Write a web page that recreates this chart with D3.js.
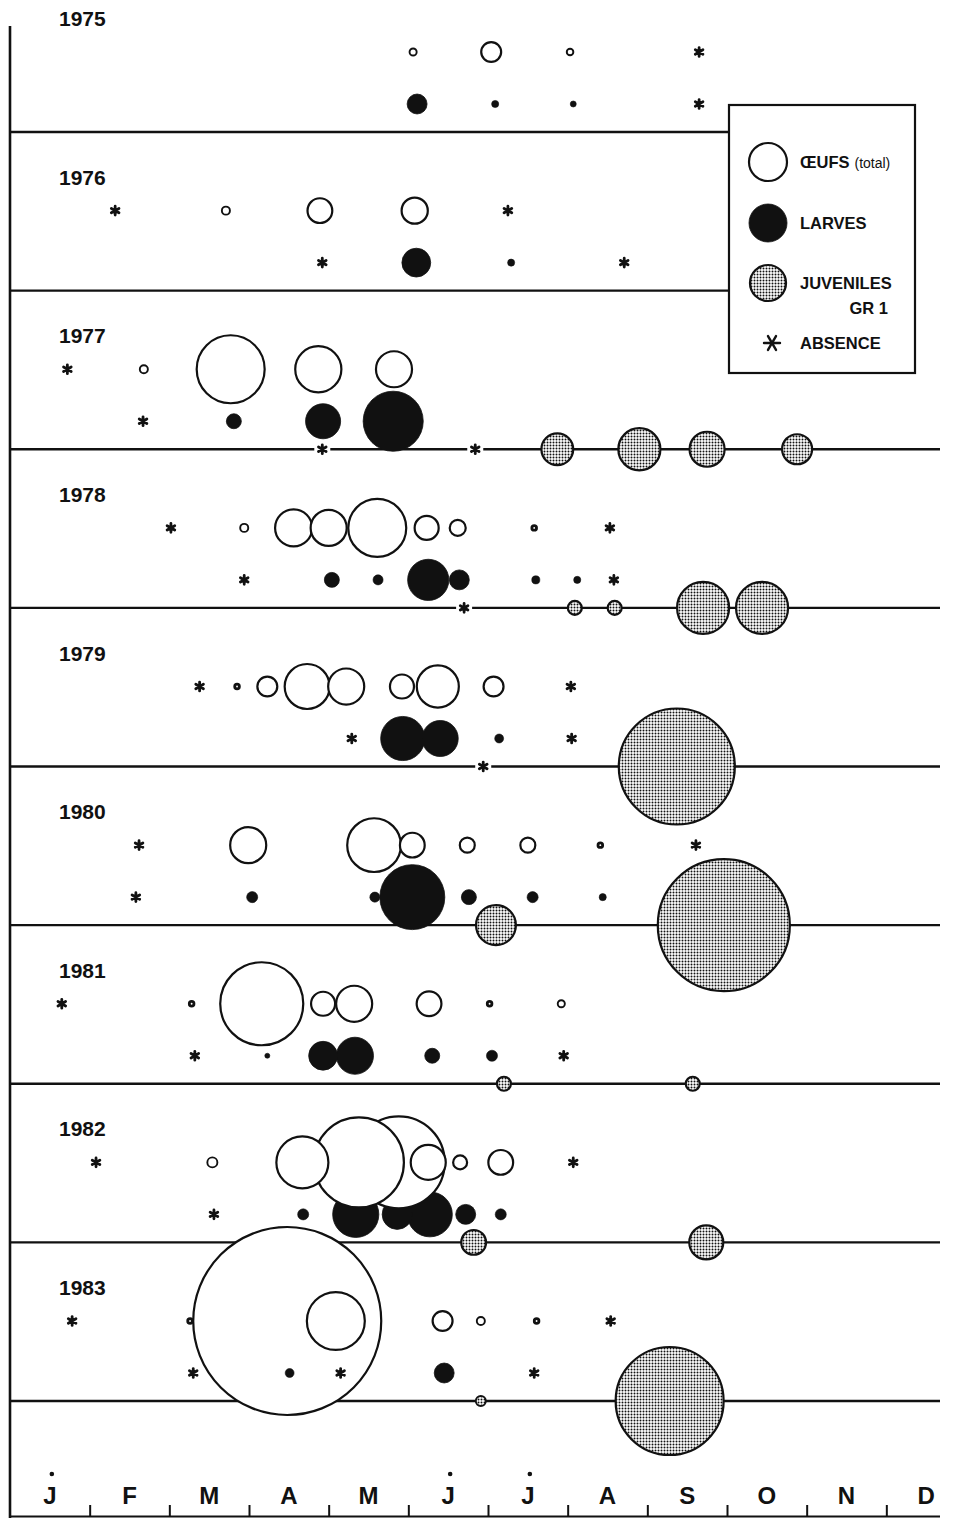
<!DOCTYPE html>
<html>
<head>
<meta charset="utf-8">
<script src="https://cdn.jsdelivr.net/npm/d3@7"></script>
<style>
  body { margin: 0; background: #fff; }
  svg { display: block; }
  text { font-family: "Liberation Sans", Arial, sans-serif; fill: #111; }
</style>
</head>
<body>
<svg id="chart" width="955" height="1518"></svg>
<script>
// Sampling years, one band each
const years = [1975, 1976, 1977, 1978, 1979, 1980, 1981, 1982, 1983];
const monthLabels = ["J", "F", "M", "A", "M", "J", "J", "A", "S", "O", "N", "D"];
const dottedMonths = [0, 5, 6];

// [year, month (0 = 1 Jan, fractional), abundance index]; 0 = absence
const eggs = [
  [1975, 5.06, 1.4], [1975, 6.04, 11], [1975, 7.03, 1.2], [1975, 8.65, 0],
  [1976, 1.32, 0], [1976, 2.71, 1.8], [1976, 3.89, 17], [1976, 5.08, 19], [1976, 6.25, 0],
  [1977, 0.72, 0], [1977, 1.68, 1.8], [1977, 2.77, 128], [1977, 3.87, 59], [1977, 4.82, 36],
  [1978, 2.02, 0], [1978, 2.94, 1.8], [1978, 3.56, 38], [1978, 4.00, 36], [1978, 4.61, 93],
  [1978, 5.23, 16], [1978, 5.62, 7.1], [1978, 6.58, 0.6], [1978, 7.53, 0],
  [1979, 2.38, 0], [1979, 2.85, 0.6], [1979, 3.23, 11], [1979, 3.73, 56], [1979, 4.22, 36],
  [1979, 4.92, 16], [1979, 5.37, 49], [1979, 6.07, 11], [1979, 7.04, 0],
  [1980, 1.62, 0], [1980, 2.99, 36], [1980, 4.57, 80], [1980, 5.05, 17], [1980, 5.74, 6.2],
  [1980, 6.50, 6.2], [1980, 7.41, 0.6], [1980, 8.61, 0],
  [1981, 0.65, 0], [1981, 2.28, 0.6], [1981, 3.16, 191], [1981, 3.93, 16], [1981, 4.32, 36],
  [1981, 5.26, 17], [1981, 6.02, 0.6], [1981, 6.92, 1.4],
  [1982, 1.08, 0], [1982, 2.54, 2.8], [1982, 3.67, 75], [1982, 4.38, 224], [1982, 4.88, 234],
  [1982, 5.25, 34], [1982, 5.65, 5.4], [1982, 6.16, 17], [1982, 7.07, 0],
  [1983, 0.78, 0], [1983, 2.26, 0.6], [1983, 3.48, 979], [1983, 4.09, 93], [1983, 5.43, 11],
  [1983, 5.91, 1.8], [1983, 6.61, 0.6], [1983, 7.54, 0]
];

const larvae = [
  [1975, 5.11, 11], [1975, 6.09, 1.4], [1975, 7.07, 1.0], [1975, 8.65, 0],
  [1976, 3.92, 0], [1976, 5.10, 23], [1976, 6.29, 1.4], [1976, 7.71, 0],
  [1977, 1.67, 0], [1977, 2.81, 6.2], [1977, 3.93, 34], [1977, 4.81, 100],
  [1978, 2.94, 0], [1978, 4.04, 6.2], [1978, 4.62, 2.8], [1978, 5.25, 47], [1978, 5.64, 11],
  [1978, 6.60, 1.8], [1978, 7.12, 1.4], [1978, 7.58, 0],
  [1979, 4.29, 0], [1979, 4.93, 54], [1979, 5.40, 36], [1979, 6.14, 2.2], [1979, 7.05, 0],
  [1980, 1.58, 0], [1980, 3.04, 3.4], [1980, 4.58, 2.8], [1980, 5.05, 117], [1980, 5.76, 6.2],
  [1980, 6.56, 3.4], [1980, 7.44, 1.4],
  [1981, 2.32, 0], [1981, 3.23, 0.7], [1981, 3.93, 23], [1981, 4.33, 38], [1981, 5.30, 6.2],
  [1981, 6.05, 3.4], [1981, 6.95, 0],
  [1982, 2.56, 0], [1982, 3.68, 3.4], [1982, 4.34, 59], [1982, 4.86, 25], [1982, 5.27, 56],
  [1982, 5.72, 11], [1982, 6.16, 3.4],
  [1983, 2.30, 0], [1983, 3.51, 2.2], [1983, 4.15, 0], [1983, 5.45, 11], [1983, 6.58, 0]
];

const juveniles = [
  [1977, 3.92, 0], [1977, 5.84, 0], [1977, 6.87, 28], [1977, 7.90, 49], [1977, 8.75, 34], [1977, 9.88, 25],
  [1978, 5.70, 0], [1978, 7.09, 5.4], [1978, 7.59, 5.4], [1978, 8.70, 75], [1978, 9.44, 75],
  [1979, 5.94, 0], [1979, 8.37, 373],
  [1980, 6.10, 44], [1980, 8.96, 483],
  [1981, 6.20, 5.4], [1981, 8.57, 5.4],
  [1982, 5.82, 17], [1982, 8.74, 32],
  [1983, 5.91, 2.8], [1983, 8.28, 323]
];

const legendItems = [
  { stage: "eggs", label: "ŒUFS", note: "(total)", value: 40 },
  { stage: "larvae", label: "LARVES", value: 40 },
  { stage: "juveniles", label: "JUVENILES", sub: "GR 1", value: 36 },
  { stage: "absence", label: "ABSENCE" }
];

const W = 955, H = 1518;
const svg = d3.select("#chart");

const x = d3.scaleLinear().domain([0, 12]).range([10, 966]);
const yRow = d3.scalePoint().domain(years).range([132, 1401]);
const r = d3.scaleSqrt().domain([0, 1000]).range([0, 95]);
const stageDy = { eggs: -80, larvae: -28, juveniles: 0 };
const lineEnd = 940;
const legendBox = { x: 729, y: 105, w: 186, h: 268 };

// Stippled fill for juveniles
const defs = svg.append("defs");
const pat = defs.append("pattern")
  .attr("id", "stipple").attr("patternUnits", "userSpaceOnUse")
  .attr("width", 3).attr("height", 3);
pat.append("rect").attr("width", 3).attr("height", 3).attr("fill", "#fff");
pat.append("circle").attr("cx", 1.5).attr("cy", 1.5).attr("r", 1.0).attr("fill", "#111");

// Flatten all series into marks
const toMarks = (rows, stage) => rows.map(([year, month, value]) => ({
  stage, year, month, value,
  cx: x(month), cy: yRow(year) + stageDy[stage], rad: r(value)
}));
const marks = [
  ...toMarks(juveniles, "juveniles"),
  ...toMarks(larvae, "larvae"),
  ...toMarks(eggs, "eggs")
];
const present = marks.filter(d => d.value > 0);
const absent = marks.filter(d => d.value === 0);

const fillOf = s => s === "eggs" ? "#fff" : s === "larvae" ? "#111" : "url(#stipple)";

// Year baselines (the juvenile axis of each band); the top two stop at the legend
const lineRight = y => (yRow(y) > legendBox.y && yRow(y) < legendBox.y + legendBox.h) ? legendBox.x : lineEnd;
svg.append("g").selectAll("line").data(years).join("line")
  .attr("x1", 10).attr("x2", d => lineRight(d))
  .attr("y1", d => yRow(d)).attr("y2", d => yRow(d))
  .attr("stroke", "#111").attr("stroke-width", 2.4);

// Year labels
svg.append("g").selectAll("text").data(years).join("text")
  .attr("x", 59).attr("y", d => yRow(d) - 106)
  .attr("font-size", 21).attr("font-weight", "bold")
  .text(d => d);

// Large marks: juveniles, then larvae, then eggs (largest first so smaller stay visible)
const big = present.filter(d => d.rad >= 6);
const order = { juveniles: 0, larvae: 1, eggs: 2 };
big.sort((a, b) => (order[a.stage] - order[b.stage]) || (b.rad - a.rad));
svg.append("g").selectAll("circle").data(big).join("circle")
  .attr("cx", d => d.cx).attr("cy", d => d.cy).attr("r", d => d.rad)
  .attr("fill", d => fillOf(d.stage))
  .attr("stroke", "#111").attr("stroke-width", d => d.stage === "larvae" ? 0.8 : 2.2);

// Small marks on top
const small = present.filter(d => d.rad < 6);
svg.append("g").selectAll("circle").data(small).join("circle")
  .attr("cx", d => d.cx).attr("cy", d => d.cy).attr("r", d => d.rad)
  .attr("fill", d => fillOf(d.stage))
  .attr("stroke", "#111")
  .attr("stroke-width", d => d.stage === "larvae" ? 0.6 : (d.rad < 3 ? 2.8 : 1.9));

// Absence asterisks
function asterisk(len, angles) {
  const p = d3.path();
  angles.forEach(a => {
    const t = a * Math.PI / 180;
    p.moveTo(-len * Math.cos(t), -len * Math.sin(t));
    p.lineTo(len * Math.cos(t), len * Math.sin(t));
  });
  return p.toString();
}
const gAbs = svg.append("g").selectAll("g").data(absent).join("g")
  .attr("transform", d => `translate(${d.cx},${d.cy})`);
gAbs.filter(d => d.stage === "juveniles").append("rect")
  .attr("x", -8).attr("y", -3).attr("width", 16).attr("height", 6).attr("fill", "#fff");
gAbs.append("path")
  .attr("d", asterisk(4.4, [90, 30, -30]))
  .attr("stroke", "#111").attr("stroke-width", 2.8).attr("stroke-linecap", "round");

// Legend
const lg = svg.append("g");
lg.append("rect").attr("x", legendBox.x).attr("y", legendBox.y)
  .attr("width", legendBox.w).attr("height", legendBox.h)
  .attr("fill", "#fff").attr("stroke", "#111").attr("stroke-width", 2.2);
const legY = [162, 223, 283, 343];
legendItems.forEach((it, i) => {
  const cy = legY[i];
  if (it.stage === "absence") {
    lg.append("path").attr("transform", `translate(772,${cy})`)
      .attr("d", asterisk(8, [0, 60, 120]))
      .attr("stroke", "#111").attr("stroke-width", 2.4).attr("stroke-linecap", "round");
  } else {
    lg.append("circle").attr("cx", 768).attr("cy", cy).attr("r", r(it.value))
      .attr("fill", fillOf(it.stage)).attr("stroke", "#111")
      .attr("stroke-width", it.stage === "larvae" ? 0.8 : 2.2);
  }
  const t = lg.append("text").attr("x", 800).attr("y", cy + 6)
    .attr("font-size", 16.5).attr("font-weight", "bold").text(it.label);
  if (it.note) {
    t.append("tspan").attr("dx", 5).attr("font-size", 14).attr("font-weight", "normal")
      .text(it.note);
  }
  if (it.sub) {
    lg.append("text").attr("x", 888).attr("y", cy + 31).attr("text-anchor", "end")
      .attr("font-size", 16.5).attr("font-weight", "bold").text(it.sub);
  }
});

// Axes
svg.append("line").attr("x1", 10).attr("x2", 10).attr("y1", 26).attr("y2", H)
  .attr("stroke", "#111").attr("stroke-width", 2.6);
svg.append("line").attr("x1", 10).attr("x2", lineEnd).attr("y1", 1516.5).attr("y2", 1516.5)
  .attr("stroke", "#111").attr("stroke-width", 1.8);

const xAxis = d3.axisBottom(x).tickValues(d3.range(1, 12)).tickSize(12).tickFormat("");
svg.append("g").attr("transform", "translate(0,1505)").call(xAxis)
  .call(g => g.select(".domain").remove())
  .call(g => g.selectAll(".tick line").attr("stroke", "#111").attr("stroke-width", 2));

const months = svg.append("g");
months.selectAll("text").data(monthLabels).join("text")
  .attr("x", (d, i) => x(i + 0.5)).attr("y", 1504)
  .attr("text-anchor", "middle").attr("font-size", 24).attr("font-weight", "bold")
  .text(d => d);
months.selectAll("circle").data(dottedMonths).join("circle")
  .attr("cx", d => x(d + 0.5) + 2).attr("cy", 1474).attr("r", 2.3).attr("fill", "#111");
</script>
</body>
</html>
